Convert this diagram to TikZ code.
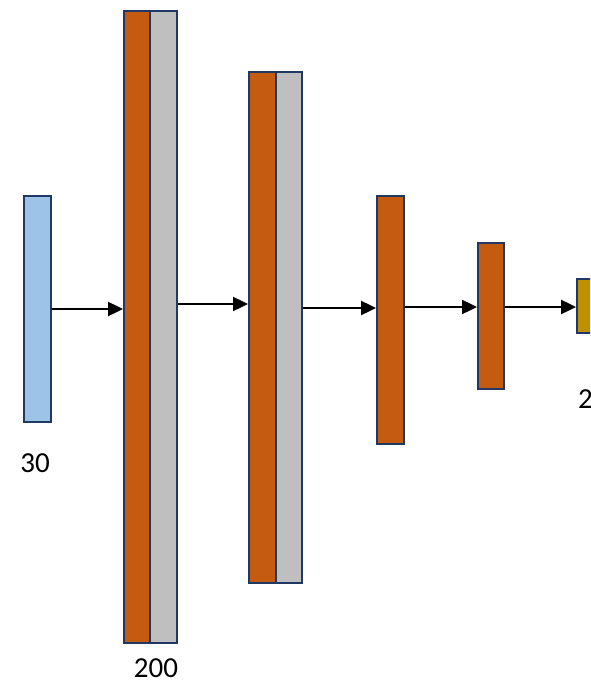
\documentclass[tikz,border=0pt]{standalone}
\usepackage{fontspec}
\setmainfont{Carlito}
\usetikzlibrary{arrows.meta}
\definecolor{inblue}{HTML}{9DC3E6}
\definecolor{lorange}{HTML}{C55A11}
\definecolor{lgray}{HTML}{BFBFBF}
\definecolor{lgold}{HTML}{BF9000}
\definecolor{navy}{HTML}{1F3864}
\tikzset{
  bar/.style={draw=navy, line width=2.2pt, inner sep=0pt, anchor=north west, rectangle},
  arr/.style={line width=2.4pt, -{Triangle[length=15pt,width=14pt]}},
  lbl/.style={font=\fontsize{29}{34}\selectfont, anchor=base, inner sep=0pt}
}
\begin{document}
\begin{tikzpicture}[x=1pt,y=-1pt]
\useasboundingbox (0,0) rectangle (590,682);
\clip (0,0) rectangle (590,682);
\fill[white] (0,0) rectangle (590,682);
% input
\node[bar, fill=inblue, minimum width=27pt, minimum height=226pt] (in) at (23,195) {};
% layer 1
\node[bar, fill=lorange, minimum width=26pt, minimum height=632pt] (l1o) at (123,10) {};
\node[bar, fill=lgray, minimum width=27pt, minimum height=632pt] (l1g) at (149,10) {};
% layer 2
\node[bar, fill=lorange, minimum width=27pt, minimum height=511pt] (l2o) at (248,71) {};
\node[bar, fill=lgray, minimum width=26pt, minimum height=511pt] (l2g) at (275,71) {};
% layer 3
\node[bar, fill=lorange, minimum width=27pt, minimum height=248pt] (l3) at (376,195) {};
% layer 4
\node[bar, fill=lorange, minimum width=26pt, minimum height=146pt] (l4) at (477,242) {};
% output
\node[bar, fill=lgold, minimum width=30pt, minimum height=54pt] (out) at (576,278) {};
% arrows
\draw[arr] (in.east |- 0,309) -- (l1o.west |- 0,309);
\draw[arr] (l1g.east |- 0,304) -- (l2o.west |- 0,304);
\draw[arr] (l2g.east |- 0,308) -- (l3.west |- 0,308);
\draw[arr] (l3.east |- 0,307) -- (l4.west |- 0,307);
\draw[arr] (l4.east |- 0,307) -- (out.west |- 0,307);
% labels
\node[lbl] (t30) at (35,472) {30};
\node[lbl] (t200) at (156,677) {200};
\node[lbl, anchor=base west] (t2) at (578,408) {2};
\end{tikzpicture}
\end{document}
